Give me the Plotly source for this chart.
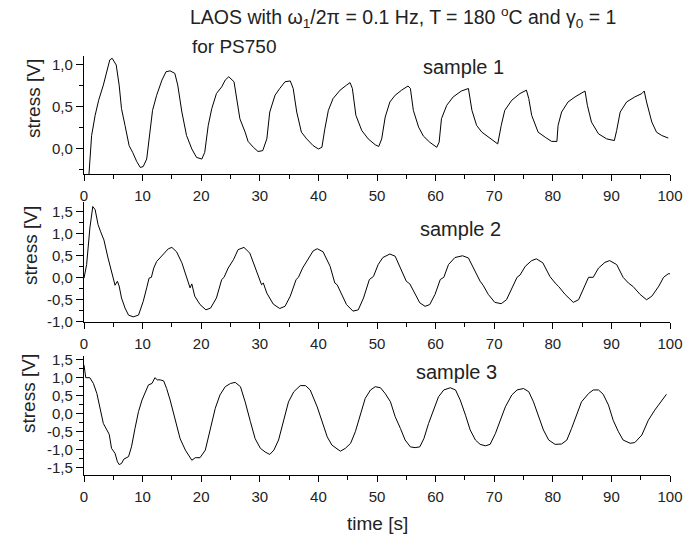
import plotly.graph_objects as go

# ---------------- data ----------------
t1 = [0.85, 1.3, 1.9, 2.5, 3.3, 3.9, 4.4, 4.8, 5.5, 6.0, 6.4, 7.0, 7.7, 8.3, 9.0, 9.6, 10.1, 10.7,
      11.3, 11.7, 12.4, 13.3, 14.0, 14.7, 15.5, 16.0, 16.7, 17.5, 18.4, 19.2, 20.1, 20.6, 21.2, 21.8,
      22.6, 23.5, 24.1, 24.7, 25.6, 26.1, 26.6, 27.5, 28.0, 28.9, 29.7, 30.5, 31.2, 31.7, 32.6, 33.4,
      34.3, 35.2, 35.7, 36.3, 37.1, 38.0, 39.1, 40.0, 40.6, 41.1, 41.7, 42.5, 43.7, 44.8, 45.4, 45.8,
      46.4, 47.4, 48.5, 49.7, 50.3, 50.8, 51.4, 52.2, 53.1, 54.2, 55.3, 55.7, 56.2, 57.1, 57.9, 59.0,
      60.2, 60.6, 61.0, 61.9, 63.0, 64.4, 65.6, 66.2, 67.0, 67.9, 69.0, 70.1, 70.6, 71.2, 71.8, 73.0,
      74.4, 75.5, 75.9, 76.4, 77.5, 78.7, 79.8, 80.7, 80.9, 81.5, 82.6, 83.8, 84.9, 85.5, 85.9, 86.6,
      87.8, 89.2, 90.5, 90.9, 91.5, 92.6, 94.0, 95.2, 95.6, 96.0, 96.9, 97.7, 98.6, 99.7]
s1 = [-0.30, 0.16, 0.40, 0.58, 0.76, 0.92, 1.06, 1.08, 1.00, 0.76, 0.48, 0.28, 0.04, -0.04, -0.15, -0.22, -0.21, -0.12,
      0.20, 0.46, 0.64, 0.82, 0.92, 0.93, 0.90, 0.76, 0.44, 0.16, 0.00, -0.10, -0.12, -0.04, 0.28, 0.48,
      0.66, 0.74, 0.82, 0.86, 0.80, 0.60, 0.36, 0.20, 0.09, 0.02, -0.03, -0.02, 0.12, 0.44, 0.64, 0.72,
      0.80, 0.81, 0.72, 0.44, 0.20, 0.12, 0.04, 0.00, 0.02, 0.24, 0.46, 0.60, 0.70, 0.76, 0.79, 0.72,
      0.40, 0.22, 0.12, 0.05, 0.03, 0.12, 0.38, 0.56, 0.64, 0.70, 0.75, 0.72, 0.46, 0.26, 0.155, 0.08,
      0.02, 0.08, 0.36, 0.52, 0.62, 0.69, 0.72, 0.46, 0.28, 0.20, 0.14, 0.09, 0.06, 0.28, 0.46, 0.58,
      0.66, 0.70, 0.60, 0.40, 0.20, 0.14, 0.09, 0.09, 0.28, 0.44, 0.56, 0.62, 0.66, 0.69, 0.52, 0.32,
      0.18, 0.12, 0.10, 0.22, 0.44, 0.56, 0.62, 0.66, 0.69, 0.56, 0.32, 0.20, 0.16, 0.13]

t2 = [0, 0.45, 1.0, 1.5, 1.9, 2.4, 2.8, 3.4, 4.1, 4.7, 5.3, 5.7, 6.0, 6.4, 7.0, 7.6, 8.4, 9.3, 10.1,
      10.7, 11.1, 11.5, 11.9, 12.4, 13.0, 13.5, 14.4, 15.0, 15.8, 16.7, 17.5, 18.1, 18.4, 18.9, 19.8,
      20.8, 21.6, 22.6, 23.5, 23.9, 24.6, 25.5, 26.3, 27.3, 28.3, 29.5, 30.3, 30.6, 31.2, 32.3, 33.4,
      34.3, 35.2, 36.2, 36.6, 37.3, 38.3, 39.1, 39.8, 40.8, 42.0, 42.8, 43.2, 44.0, 44.8, 45.9, 46.8,
      47.7, 48.7, 49.4, 50.2, 51.0, 52.2, 53.1, 54.2, 55.0, 55.6, 56.5, 57.3, 58.2, 59.0, 59.9, 60.8,
      61.4, 62.2, 63.3, 64.6, 65.6, 66.7, 67.6, 68.1, 69.0, 70.1, 71.2, 72.1, 73.0, 73.9, 74.4, 75.3,
      76.4, 77.2, 78.3, 79.5, 80.4, 81.0, 82.1, 83.5, 84.4, 85.2, 86.1, 86.9, 87.8, 88.9, 89.7, 90.9,
      92.0, 92.9, 93.7, 94.9, 96.0, 96.9, 98.1, 98.9, 99.7, 100]
s2 = [-0.02, 0.29, 1.12, 1.61, 1.54, 1.20, 1.05, 0.85, 0.44, 0.10, -0.18, -0.09, -0.20, -0.47, -0.70, -0.86, -0.90, -0.86, -0.55,
      -0.24, -0.02, 0.00, 0.21, 0.36, 0.44, 0.53, 0.65, 0.68, 0.58, 0.33, -0.02, -0.24, -0.15, -0.43, -0.62,
      -0.74, -0.70, -0.47, -0.05, 0.00, 0.21, 0.40, 0.63, 0.68, 0.55, 0.14, -0.17, -0.13, -0.36, -0.61, -0.71,
      -0.66, -0.43, -0.05, 0.00, 0.21, 0.44, 0.60, 0.65, 0.58, 0.25, -0.13, -0.17, -0.39, -0.62, -0.77, -0.74,
      -0.47, -0.05, 0.02, 0.29, 0.45, 0.53, 0.48, 0.17, -0.09, -0.15, -0.39, -0.58, -0.66, -0.62, -0.39, -0.05,
      0.00, 0.29, 0.45, 0.49, 0.44, 0.14, -0.09, -0.18, -0.39, -0.57, -0.60, -0.51, -0.24, 0.00, 0.05, 0.25,
      0.38, 0.42, 0.33, 0.02, -0.13, -0.21, -0.39, -0.57, -0.51, -0.28, 0.00, 0.00, 0.21, 0.34, 0.38, 0.29,
      0.00, -0.13, -0.21, -0.39, -0.51, -0.43, -0.20, 0.00, 0.08, 0.08]

t3 = [0, 0.3, 1.0, 1.6, 2.2, 2.7, 3.3, 3.9, 4.3, 4.7, 5.3, 5.7, 6.0, 6.4, 6.8, 7.6, 8.1, 8.7, 9.3, 9.9,
      10.4, 11.0, 11.6, 12.1, 12.5, 13.0, 13.6, 14.1, 14.7, 15.6, 16.4, 17.3, 17.8, 18.4, 19.0, 19.8,
      20.7, 21.5, 22.4, 23.2, 24.1, 25.0, 25.8, 26.7, 27.5, 28.4, 29.2, 30.1, 30.9, 31.7, 32.4, 33.2,
      34.1, 34.9, 35.8, 36.9, 37.8, 38.6, 39.8, 40.6, 41.5, 42.3, 42.9, 43.75, 44.6, 45.5, 46.3, 47.2,
      48.0, 48.9, 49.7, 50.6, 51.4, 52.3, 53.1, 54.0, 54.8, 55.7, 56.5, 57.3, 58.0, 58.8, 59.7, 60.5,
      61.4, 62.5, 63.4, 64.2, 65.1, 65.9, 66.8, 67.6, 68.5, 69.3, 70.2, 71.0, 71.9, 73.0, 73.9, 75.0,
      75.9, 76.7, 77.6, 78.4, 79.3, 80.4, 81.5, 82.4, 83.2, 84.1, 84.9, 86.1, 86.9, 87.8, 88.6, 89.5,
      90.3, 91.2, 92.0, 93.2, 94.0, 95.2, 96.3, 97.4, 98.6, 99.4]
s3 = [1.35, 1.00, 1.00, 0.84, 0.56, 0.19, -0.27, -0.45, -0.57, -0.96, -1.10, -1.33, -1.41, -1.38, -1.26, -1.19, -0.92, -0.41, 0.06, 0.38,
      0.56, 0.80, 0.84, 1.00, 0.94, 0.94, 0.91, 0.70, 0.38, -0.18, -0.69, -1.01, -1.15, -1.29, -1.22, -1.22,
      -1.01, -0.50, 0.15, 0.52, 0.75, 0.84, 0.87, 0.75, 0.33, -0.22, -0.69, -0.96, -1.06, -1.13, -1.01, -0.73,
      -0.13, 0.33, 0.61, 0.78, 0.78, 0.66, 0.19, -0.22, -0.64, -0.87, -0.94, -1.04, -0.96, -0.82, -0.50, 0.00,
      0.43, 0.66, 0.75, 0.72, 0.56, 0.33, -0.08, -0.41, -0.73, -0.92, -0.94, -0.92, -0.69, -0.27, 0.15, 0.47,
      0.66, 0.72, 0.66, 0.38, -0.04, -0.45, -0.73, -0.85, -0.89, -0.85, -0.55, -0.18, 0.19, 0.52, 0.66, 0.70,
      0.61, 0.33, -0.08, -0.45, -0.73, -0.85, -0.84, -0.73, -0.41, -0.04, 0.33, 0.56, 0.66, 0.66, 0.54, 0.24,
      -0.18, -0.50, -0.73, -0.82, -0.80, -0.59, -0.18, 0.10, 0.38, 0.54]

x_ticks = [0, 10, 20, 30, 40, 50, 60, 70, 80, 90, 100]
x_minor = [5, 15, 25, 35, 45, 55, 65, 75, 85, 95]
y1_ticks, y1_text = [0.0, 0.5, 1.0], ["0,0", "0,5", "1,0"]
y2_ticks, y2_text = [-1.0, -0.5, 0.0, 0.5, 1.0, 1.5], ["-1,0", "-0,5", "0,0", "0,5", "1,0", "1,5"]
y3_ticks, y3_text = [-1.5, -1.0, -0.5, 0.0, 0.5, 1.0, 1.5], ["-1,5", "-1,0", "-0,5", "0,0", "0,5", "1,0", "1,5"]
y_minor = [-1.75, -1.25, -0.75, -0.25, 0.25, 0.75, 1.25, 1.75]

title_text = "LAOS with ω<sub>1</sub>/2π = 0.1 Hz, T = 180 <sup>o</sup>C and γ<sub>0</sub> = 1"
sub_title = "for PS750"
sample_names = ["sample 1", "sample 2", "sample 3"]

# ---------------- layout helpers ----------------
W, H = 683, 535
FONT = "Liberation Sans, Arial, sans-serif"
XL, XR = 84, 670
panels = [(56, 174), (201.7, 321.7), (355.7, 475)]
yranges = [[-0.298, 1.107], [-1.01, 1.72], [-1.70, 1.61]]


def px(x):
    return x / W


def py(y):
    return 1 - y / H


fig = go.Figure()
series = [(t1, s1), (t2, s2), (t3, s3)]
for i, (t, s) in enumerate(series):
    fig.add_trace(go.Scatter(x=t, y=s, mode="lines", line=dict(color="black", width=1),
                             xaxis="x" if i == 0 else f"x{i+1}", yaxis="y" if i == 0 else f"y{i+1}",
                             showlegend=False, hoverinfo="skip"))

ytv = [(y1_ticks, y1_text), (y2_ticks, y2_text), (y3_ticks, y3_text)]
layout = dict(width=W, height=H, margin=dict(l=0, r=0, t=0, b=0),
              paper_bgcolor="white", plot_bgcolor="white", template="none",
              font=dict(family=FONT, color="black"))
for i, (top, bot) in enumerate(panels):
    xa = "xaxis" if i == 0 else f"xaxis{i+1}"
    ya = "yaxis" if i == 0 else f"yaxis{i+1}"
    yname = "y" if i == 0 else f"y{i+1}"
    xname = "x" if i == 0 else f"x{i+1}"
    layout[xa] = dict(domain=[px(XL), px(XR)], range=[0, 100], anchor=yname,
                      showline=True, linecolor="black", linewidth=1.3, mirror=False,
                      showgrid=False, zeroline=False, automargin=False,
                      tickmode="array", tickvals=x_ticks, ticktext=[str(v) for v in x_ticks],
                      ticks="outside", ticklen=6, tickwidth=1.2, tickcolor="black",
                      ticklabelstandoff=2,
                      tickfont=dict(family=FONT, size=15, color="#222"),
                      minor=dict(tickmode="array", tickvals=x_minor, ticks="outside",
                                 ticklen=4, tickwidth=1.2, tickcolor="black"))
    yt, ytx = ytv[i]
    layout[ya] = dict(domain=[py(bot), py(top)], range=yranges[i], anchor=xname,
                      showline=True, linecolor="black", linewidth=1.3, mirror=False,
                      showgrid=False, zeroline=False, automargin=False,
                      tickmode="array", tickvals=yt, ticktext=ytx,
                      ticks="outside", ticklen=7, tickwidth=1.2, tickcolor="black",
                      tickfont=dict(family=FONT, size=15, color="#222"),
                      minor=dict(tickmode="array", tickvals=y_minor, ticks="outside",
                                 ticklen=4, tickwidth=1.2, tickcolor="black"))
fig.update_layout(**layout)

ann = []
ann.append(dict(text=title_text, x=px(188), y=py(18), xanchor="left", yanchor="middle",
                font=dict(size=19.5, color="#222", family=FONT)))
ann.append(dict(text=sub_title, x=px(190), y=py(47), xanchor="left", yanchor="middle",
                font=dict(size=19, color="#222", family=FONT)))
for name, (cx, cy) in zip(sample_names, [(463, 67), (460, 229), (456, 372)]):
    ann.append(dict(text=name, x=px(cx), y=py(cy), xanchor="center", yanchor="middle",
                    font=dict(size=20, color="#222", family=FONT)))
for cx, cy in [(33, 99), (31, 246), (28, 394)]:
    ann.append(dict(text="stress [V]", x=px(cx), y=py(cy), xanchor="center", yanchor="middle",
                    textangle=-90, font=dict(size=19, color="#222", family=FONT)))
ann.append(dict(text="time [s]", x=px(377), y=py(523), xanchor="center", yanchor="middle",
                font=dict(size=19, color="#222", family=FONT)))
for a in ann:
    a.update(xref="paper", yref="paper", showarrow=False)
fig.update_layout(annotations=ann)

fig.write_html("out.html")
